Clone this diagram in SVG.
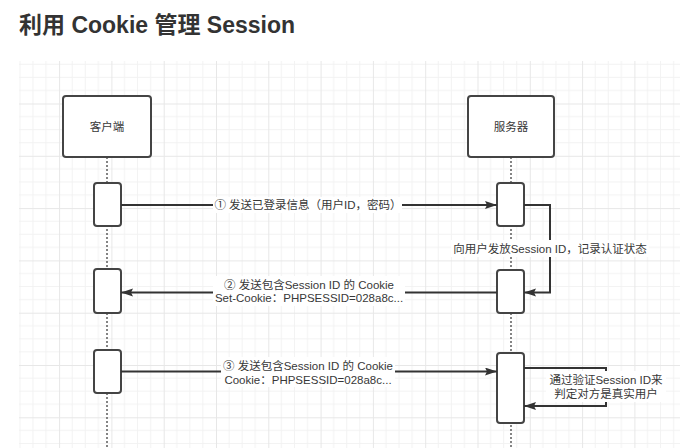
<svg xmlns="http://www.w3.org/2000/svg" width="683" height="448" viewBox="0 0 683 448">
<style>
.title{font-family:"Liberation Sans","Noto Sans CJK SC",sans-serif;font-size:23px;font-weight:bold;fill:#333}
.t{font-family:"Liberation Sans","Noto Sans CJK SC",sans-serif;font-size:11.5px;fill:#383838;text-anchor:middle}
.node{fill:#fff;stroke:#444;stroke-width:2}
.act{fill:#fff;stroke:#444;stroke-width:2}
.life{stroke:#666;stroke-width:1.6;stroke-dasharray:2 2;fill:none}
.msg{stroke:#333;stroke-width:2;fill:none}
.bg{fill:#fff}
</style>
<defs>
<pattern id="grid" x="6.8" y="51.2" width="52.3" height="52.3" patternUnits="userSpaceOnUse">
<path d="M13.07 0V52.3M26.15 0V52.3M39.22 0V52.3M0 13.07H52.3M0 26.15H52.3M0 39.22H52.3" stroke="#f2f2f2" stroke-width="1" fill="none"/>
<path d="M0.5 0V52.3M0 0.5H52.3" stroke="#e7e7e7" stroke-width="1" fill="none"/>
</pattern>
<marker id="arr" markerUnits="userSpaceOnUse" markerWidth="13" markerHeight="9" refX="12" refY="4" orient="auto">
<path d="M0,0 L12,4 L0,8 L2,4 z" fill="#333"/>
</marker>
</defs>
<rect width="683" height="448" fill="#fff"/>
<text class="title" x="19" y="33">利用 Cookie 管理 Session</text>
<rect x="19" y="61" width="661" height="387" fill="url(#grid)"/>

<g id="lifelines">
<line class="life" x1="107" y1="157" x2="107" y2="448"/>
<line class="life" x1="511" y1="157" x2="511" y2="448"/>
</g>

<g id="client">
<rect class="node" x="63" y="96" width="88" height="61" rx="3"/>
<text class="t" x="107" y="131">客户端</text>
</g>
<g id="server">
<rect class="node" x="468" y="96" width="86" height="61" rx="3"/>
<text class="t" x="511" y="131">服务器</text>
</g>

<g id="client-act1"><rect class="act" x="94" y="183" width="27" height="43" rx="3"/></g>
<g id="client-act2"><rect class="act" x="94" y="269" width="27" height="44" rx="3"/></g>
<g id="client-act3"><rect class="act" x="94" y="350" width="27" height="43" rx="3"/></g>
<g id="server-act1"><rect class="act" x="497" y="183" width="27" height="43" rx="3"/></g>
<g id="server-act2"><rect class="act" x="497" y="270" width="27" height="43" rx="3"/></g>
<g id="server-act3"><rect class="act" x="497" y="353" width="27" height="70" rx="3"/></g>

<g id="connectors">
<path class="msg" d="M121 205H497" marker-end="url(#arr)"/>
<path class="msg" d="M524 205H550V292.5H524" marker-end="url(#arr)"/>
<path class="msg" d="M497 292.5H121" marker-end="url(#arr)"/>
<path class="msg" d="M121 371.5H497" marker-end="url(#arr)"/>
<path class="msg" d="M524 368H606V406H524" marker-end="url(#arr)"/>

<rect class="bg" x="213" y="197" width="189" height="16"/>
<text class="t" x="308" y="209">① 发送已登录信息（用户ID，密码）</text>

<rect class="bg" x="451" y="240" width="198" height="17"/>
<text class="t" x="550" y="252.5">向用户发放Session ID，记录认证状态</text>

<rect class="bg" x="213" y="276" width="192" height="30"/>
<text class="t" x="309" y="288.5">② 发送包含Session ID 的 Cookie</text>
<text class="t" x="309" y="302">Set-Cookie：PHPSESSID=028a8c...</text>

<rect class="bg" x="221" y="357" width="174" height="30"/>
<text class="t" x="308" y="369.5">③ 发送包含Session ID 的 Cookie</text>
<text class="t" x="308" y="383.5">Cookie：PHPSESSID=028a8c...</text>

<rect class="bg" x="546" y="371" width="120" height="31"/>
<text class="t" x="606" y="383.5">通过验证Session ID来</text>
<text class="t" x="606" y="398">判定对方是真实用户</text>
</g>
</svg>
